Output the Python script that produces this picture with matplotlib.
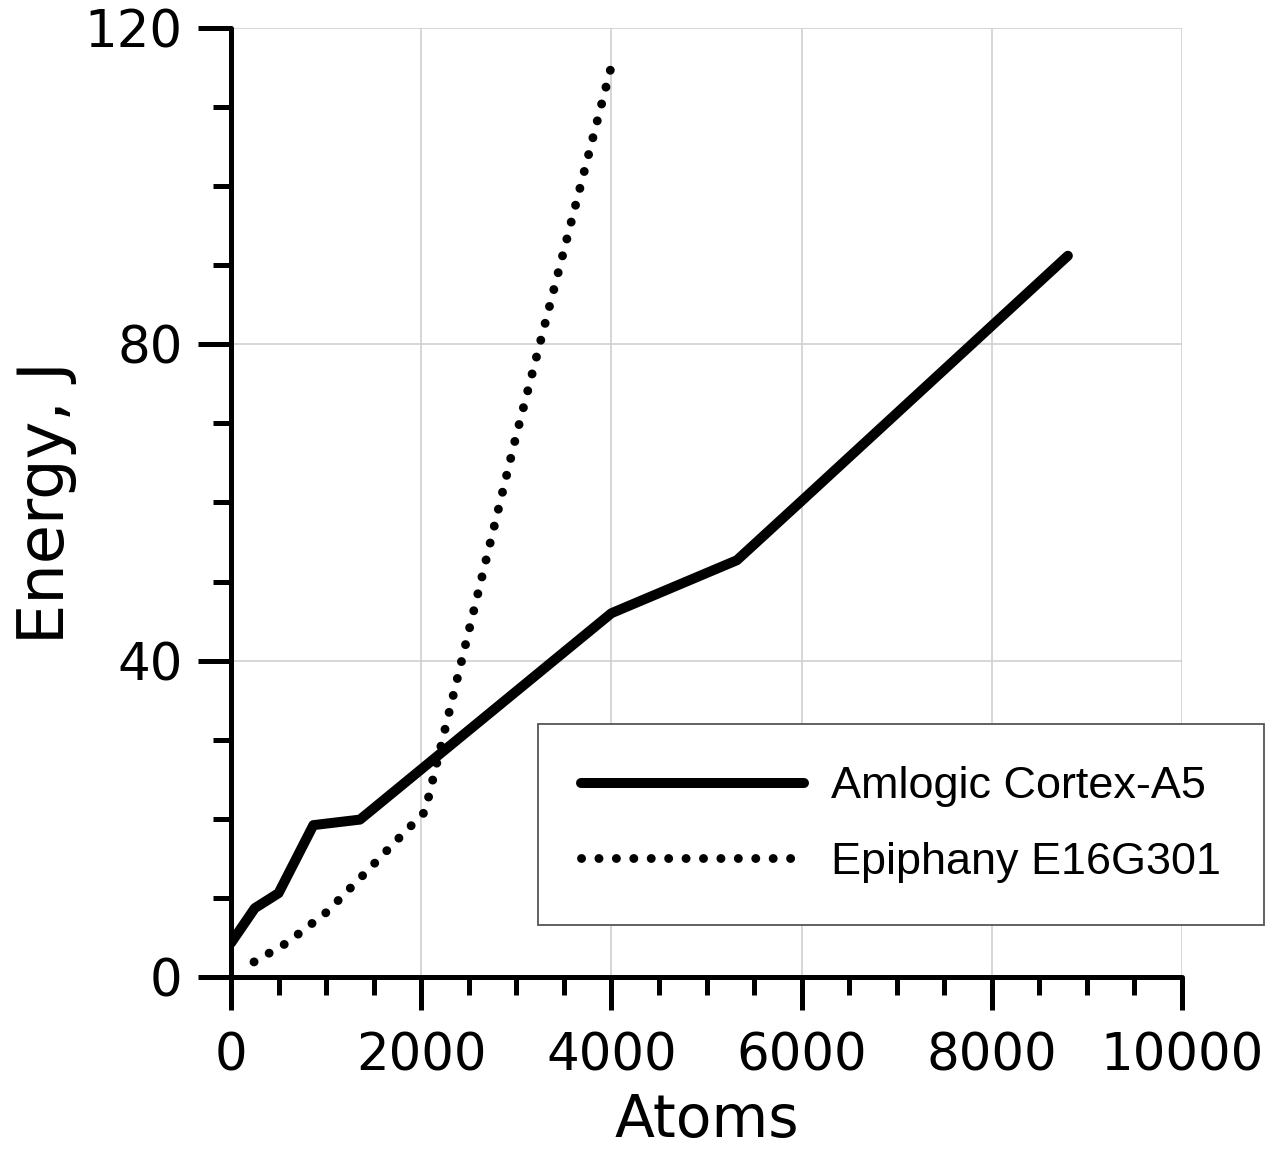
import matplotlib
matplotlib.use("Agg")
import matplotlib.pyplot as plt
from matplotlib.ticker import MultipleLocator

# values
amlogic_atoms = [0, 250, 500, 866, 1356, 4000, 5320, 6000, 8800]
amlogic_energy = [4.3, 8.7, 10.6, 19.2, 19.9, 46.0, 52.7, 60.2, 91.2]

epiphany_atoms = [242, 586, 1006, 1391, 1777, 2040, 3000, 4000]
epiphany_energy = [1.9, 4.3, 8.2, 12.9, 17.7, 20.9, 68.5, 115.2]

labels = ["Amlogic Cortex-A5", "Epiphany E16G301"]

fig = plt.figure(figsize=(12.7, 11.57), dpi=100)
ax = fig.add_axes([0.1819, 0.1556, 0.7488, 0.8202])

ax.plot(amlogic_atoms, amlogic_energy, color="black", lw=7.2,
        solid_capstyle="round", solid_joinstyle="round", label=labels[0], zorder=3)
# round dots, ~9 px wide, ~17 px apart
ax.plot(epiphany_atoms, epiphany_energy, color="black", lw=6.4,
        linestyle=(0, (0.01, 1.95)), dash_capstyle="round", label=labels[1], zorder=3)

ax.set_xlim(0, 10000)
ax.set_ylim(0, 120)
ax.xaxis.set_major_locator(MultipleLocator(2000))
ax.xaxis.set_minor_locator(MultipleLocator(500))
ax.yaxis.set_major_locator(MultipleLocator(40))
ax.yaxis.set_minor_locator(MultipleLocator(10))

ax.grid(True, which="major", color="#d0d0d0", lw=1.2, zorder=0)
ax.set_axisbelow(True)

for s in ["top", "right"]:
    ax.spines[s].set_visible(False)
for s in ["left", "bottom"]:
    ax.spines[s].set_linewidth(3.6)
    ax.spines[s].set_capstyle("round")

ax.tick_params(which="major", direction="out", length=24, width=3.6, labelsize=37)
ax.tick_params(which="minor", direction="out", length=13, width=3.6)
ax.tick_params(axis="x", which="major", pad=15)
ax.tick_params(axis="y", which="major", pad=11)

ax.set_xlabel("Atoms", fontsize=42, labelpad=8)
ax.set_ylabel("Energy, J", fontsize=46, labelpad=5)

leg = ax.legend(loc="center", bbox_to_anchor=(0.7045, 0.1607), fancybox=False,
                prop={"family": "Liberation Sans", "size": 32.4},
                handlelength=4.95, handletextpad=0.6, labelspacing=0.76,
                borderpad=0.95, borderaxespad=0, framealpha=1)
leg.get_frame().set_edgecolor("#555555")
leg.get_frame().set_linewidth(1.3)

fig.savefig("out.png", dpi=100)
